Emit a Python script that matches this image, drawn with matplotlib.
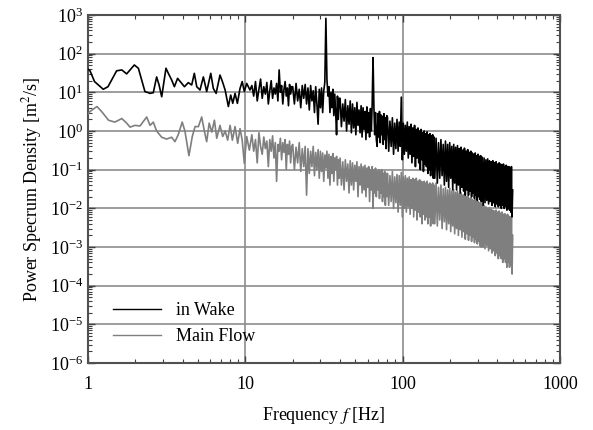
import matplotlib
matplotlib.use('Agg')
import matplotlib.pyplot as plt
from matplotlib.ticker import LogLocator, FixedLocator, FixedFormatter, NullFormatter
import numpy as np

plt.rcParams['font.family'] = ['Liberation Serif', 'DejaVu Serif']
plt.rcParams['mathtext.fontset'] = 'stix'

# low frequency part (Hz, m^2/s)
wake_lo_f = [1.0, 1.03, 1.1, 1.25, 1.34, 1.52, 1.64, 1.76, 1.97, 2.09,
             2.3, 2.48, 2.6, 2.73, 2.83, 2.94, 3.13, 3.24, 3.4, 3.54,
             3.71, 3.94, 4.1, 4.34, 4.56, 4.74, 4.91, 5.15, 5.41, 5.68,
             6.03, 6.26, 6.52, 6.9, 7.15, 7.44, 7.8, 8.07, 8.32, 8.6,
             8.9, 9.25, 9.55, 9.85, 10.2, 10.7]
wake_lo_v = [40, 36, 19, 12, 14, 36, 38, 30, 51, 42,
             10.5, 9.4, 9.8, 25, 15.5, 7.7, 42, 31, 21, 14,
             23, 17, 14, 17.8, 15.5, 31, 14, 11.5, 25, 10.5,
             31, 12.6, 9.4, 28, 19, 11.5, 4.3, 8.5, 5.2, 9.4,
             5.2, 12.6, 19, 10.5, 17, 11.5]

main_lo_f = [1.0, 1.03, 1.14, 1.22, 1.35, 1.48, 1.64, 1.76, 1.85, 1.99,
             2.14, 2.36, 2.48, 2.6, 2.73, 2.94, 3.16, 3.4, 3.57, 3.74,
             3.97, 4.13, 4.38, 4.6, 4.79, 5.03, 5.28, 5.49, 5.68, 5.89,
             6.12, 6.36, 6.58, 6.9, 7.18, 7.44, 7.72, 8.0, 8.27, 8.6,
             8.94, 9.25, 9.55, 9.85, 10.2, 10.6]
main_lo_v = [2.8, 3.2, 4.3, 3.2, 1.9, 1.7, 2.1, 1.6, 1.26, 1.4,
             1.35, 2.3, 1.4, 1.7, 1.0, 0.69, 0.62, 0.69, 0.53, 0.79,
             1.7, 1.0, 0.23, 0.72, 1.3, 1.3, 2.3, 1.0, 0.53, 1.6,
             0.94, 1.9, 0.65, 1.4, 0.72, 1.0, 0.58, 1.4, 0.58, 1.3,
             0.48, 1.15, 0.58, 0.146, 0.72, 0.32]

# noisy part above ~11 Hz, shared frequency bins
freq_hi = [11.0, 11.3, 11.6, 11.9, 12.2, 12.5, 12.8, 13.1, 13.4, 13.7,
           14.0, 14.3, 14.6, 14.9, 15.2, 15.5, 15.8, 16.1, 16.4, 16.7,
           17.0, 17.3, 17.6, 17.9, 18.2, 18.5, 18.8, 19.1, 19.4, 19.7,
           20.0, 20.5, 21.0, 21.5, 22.0, 22.5, 23.0, 23.5, 24.0, 24.5,
           25.0, 25.5, 26.0, 26.5, 27.0, 27.5, 28.0, 28.5, 29.0, 29.5,
           30.0, 30.5, 31.0, 31.5, 32.0, 32.5, 33.0, 33.5, 34.0, 34.5,
           35.0, 35.5, 36.0, 36.5, 37.0, 37.5, 38.0, 38.5, 39.0, 39.5,
           40.0, 40.8, 41.6, 42.4, 43.2, 44.0, 44.8, 45.6, 46.4, 47.2,
           48.0, 48.8, 49.6, 50.4, 51.2, 52.0, 52.8, 53.6, 54.4, 55.2,
           56.0, 56.8, 57.6, 58.4, 59.2, 60.0, 60.8, 61.6, 62.4, 63.2,
           64.0, 64.8, 65.6, 66.4, 67.2, 68.0, 68.8, 69.6, 70.4, 71.2,
           72.0, 72.8, 73.6, 74.4, 75.2, 76.0, 76.8, 77.6, 78.4, 79.2,
           80.0, 81.5, 83.0, 84.5, 86.0, 87.5, 89.0, 90.5, 92.0, 93.5,
           95.0, 96.5, 98.0, 99.5, 101.0, 102.5, 104.0, 105.5, 107.0, 108.5,
           110.0, 111.5, 113.0, 114.5, 116.0, 117.5, 119.0, 120.5, 122.0, 123.5,
           125.0, 126.5, 128.0, 129.5, 131.0, 132.5, 134.0, 135.5, 137.0, 138.5,
           140.0, 141.5, 143.0, 144.5, 146.0, 147.5, 149.0, 150.5, 152.0, 153.5,
           155.0, 156.5, 158.0,
           160, 163, 166, 169, 172, 175, 178, 181, 184, 187,
           190, 193, 196, 199, 202, 205, 208, 211, 214, 217,
           220, 223, 226, 229, 232, 235, 238, 241, 244, 247,
           250, 253, 256, 259, 262, 265, 268, 271, 274, 277,
           280, 283, 286, 289, 292, 295, 298, 301, 304, 307,
           310, 313, 316,
           320, 324.5, 329, 333.5, 338, 342.5, 347, 351.5, 356, 360.5,
           365, 369.5, 374, 378.5, 383, 387.5, 392, 396.5, 401, 405.5,
           410, 414.5, 419, 423.5, 428, 432.5, 437, 441.5, 446, 450.5,
           455, 459.5, 464, 468.5, 473, 477.5, 482, 486.5, 491, 495.5,
           500]

wake_hi = [15, 8, 19, 6, 12, 22, 7, 14, 9, 18,
           5, 11, 20, 7, 13, 9, 17, 6, 38, 10,
           15, 5, 12, 19, 8, 13, 4.5, 16, 9, 14,
           14, 5, 17, 6, 12, 4, 15, 7, 16, 5,
           13, 3.5, 15, 6, 11, 3, 14, 5, 1.5, 12,
           4, 13, 3, 11, 18, 820, 22, 8, 14, 3,
           10, 4, 12, 2.5, 9, 3, 0.8, 8, 2, 7,
           7, 1.3, 5, 1.8, 6.5, 1.0, 4.5, 1.5, 6, 0.9,
           5, 1.2, 4, 0.8, 5.5, 1.4, 3.5, 0.9, 4.5, 0.7,
           4, 1.1, 3.2, 0.6, 4.2, 0.9, 3, 0.7, 3.8, 1.0,
           5, 79, 4.5, 0.8, 3, 0.6, 0.4, 2.8, 0.7, 3.2,
           0.5, 2.6, 0.8, 2.4, 0.45, 2.8, 0.6, 2.2, 0.35, 2.5,
           2.3, 0.3, 1.8, 0.4, 2.2, 0.25, 1.6, 0.35, 2.0, 0.3,
           1.7, 0.4, 7.5, 0.18, 1.6, 0.25, 1.4, 0.3, 1.7, 0.2,
           1.3, 0.25, 1.5, 0.15, 1.2, 0.22, 1.4, 0.12, 1.1, 0.2,
           1.2, 0.15, 1.0, 0.1, 1.1, 0.18, 0.9, 0.09, 1.0, 0.14,
           0.85, 0.12, 0.95, 0.08, 0.8, 0.1, 0.85, 0.07, 0.75, 0.1,
           0.8, 0.06, 0.7,
           0.06, 0.65, 0.045, 0.5, 0.06, 0.6, 0.07, 0.45, 0.04, 0.55,
           0.05, 0.45, 0.035, 0.5, 0.06, 0.4, 0.03, 0.45, 0.045, 0.38,
           0.03, 0.42, 0.04, 0.35, 0.025, 0.38, 0.035, 0.32, 0.028, 0.36,
           0.022, 0.3, 0.03, 0.33, 0.022, 0.28, 0.028, 0.3, 0.02, 0.27,
           0.025, 0.25, 0.018, 0.27, 0.022, 0.23, 0.016, 0.25, 0.02, 0.22,
           0.017, 0.23, 0.015,
           0.21, 0.012, 0.2, 0.014, 0.18, 0.016, 0.19, 0.013, 0.17, 0.015,
           0.16, 0.012, 0.17, 0.014, 0.15, 0.011, 0.16, 0.013, 0.14, 0.011,
           0.15, 0.012, 0.14, 0.01, 0.13, 0.012, 0.14, 0.01, 0.12, 0.011,
           0.13, 0.009, 0.12, 0.01, 0.12, 0.009, 0.11, 0.008, 0.12, 0.006,
           0.03]

main_hi = [0.8, 0.3, 0.6, 0.15, 0.9, 0.4, 0.25, 0.7, 0.35, 0.55,
           0.12, 0.6, 0.3, 0.75, 0.2, 0.5, 0.05, 0.45, 0.3, 0.65,
           0.18, 0.5, 0.28, 0.6, 0.1, 0.45, 0.25, 0.55, 0.15, 0.4,
           0.45, 0.1, 0.38, 0.15, 0.5, 0.09, 0.35, 0.12, 0.4, 0.022,
           0.35, 0.08, 0.3, 0.12, 0.4, 0.07, 0.28, 0.1, 0.33, 0.06,
           0.3, 0.09, 0.27, 0.05, 0.24, 0.11, 0.3, 0.06, 0.25, 0.04,
           0.22, 0.08, 0.26, 0.05, 0.2, 0.1, 0.22, 0.04, 0.18, 0.06,
           0.2, 0.04, 0.16, 0.03, 0.18, 0.05, 0.14, 0.025, 0.17, 0.04,
           0.15, 0.03, 0.13, 0.05, 0.16, 0.02, 0.12, 0.04, 0.14, 0.025,
           0.12, 0.03, 0.13, 0.02, 0.11, 0.035, 0.12, 0.015, 0.1, 0.03,
           0.12, 0.01, 0.1, 0.025, 0.11, 0.02, 0.09, 0.03, 0.1, 0.018,
           0.09, 0.025, 0.1, 0.015, 0.08, 0.02, 0.09, 0.012, 0.08, 0.02,
           0.08, 0.012, 0.07, 0.015, 0.09, 0.01, 0.065, 0.014, 0.075, 0.008,
           0.07, 0.012, 0.085, 0.006, 0.065, 0.01, 0.07, 0.008, 0.06, 0.011,
           0.065, 0.007, 0.055, 0.01, 0.06, 0.006, 0.055, 0.009, 0.06, 0.005,
           0.05, 0.008, 0.055, 0.006, 0.05, 0.004, 0.048, 0.007, 0.05, 0.005,
           0.045, 0.006, 0.05, 0.004, 0.042, 0.006, 0.045, 0.0035, 0.04, 0.005,
           0.045, 0.004, 0.04,
           0.004, 0.045, 0.0035, 0.035, 0.005, 0.04, 0.003, 0.032, 0.0045, 0.035,
           0.0028, 0.03, 0.004, 0.033, 0.0025, 0.028, 0.0035, 0.03, 0.0022, 0.026,
           0.003, 0.028, 0.002, 0.024, 0.0028, 0.025, 0.0018, 0.022, 0.0025, 0.023,
           0.0016, 0.02, 0.0022, 0.021, 0.0015, 0.018, 0.002, 0.019, 0.0014, 0.017,
           0.0018, 0.016, 0.0013, 0.017, 0.0016, 0.015, 0.0012, 0.015, 0.0014, 0.014,
           0.0011, 0.014, 0.001,
           0.013, 0.001, 0.012, 0.0009, 0.011, 0.0011, 0.01, 0.0008, 0.0105, 0.0009,
           0.0095, 0.0007, 0.009, 0.0008, 0.0085, 0.0006, 0.009, 0.0007, 0.008, 0.0005,
           0.0085, 0.0006, 0.0075, 0.0005, 0.008, 0.0004, 0.007, 0.0005, 0.0072, 0.0004,
           0.0065, 0.0003, 0.007, 0.0004, 0.0062, 0.0003, 0.006, 0.00035, 0.0058, 0.0002,
           0.002]

x_ticks = [1, 10, 100, 1000]
x_labels = ['1', '10', '100', '1000']

wake_f = wake_lo_f + freq_hi
wake_v = wake_lo_v + wake_hi
main_f = main_lo_f + freq_hi
main_v = main_lo_v + main_hi

fig = plt.figure(figsize=(5.93, 4.3), dpi=100)
ax = fig.add_axes([0.1484, 0.1558, 0.7960, 0.8093])

ax.plot(main_f, main_v, color='#7f7f7f', lw=1.2, label='Main Flow', zorder=3)
ax.plot(wake_f, wake_v, color='black', lw=1.2, label='in Wake', zorder=4)

ax.set_xscale('log')
ax.set_yscale('log')
ax.set_xlim(1, 1000)
ax.set_ylim(1e-6, 1e3)

ax.xaxis.set_major_locator(FixedLocator(x_ticks))
ax.xaxis.set_major_formatter(FixedFormatter(x_labels))
ax.xaxis.set_minor_locator(LogLocator(base=10, subs=np.arange(2, 10)))
ax.xaxis.set_minor_formatter(NullFormatter())
ax.yaxis.set_major_locator(LogLocator(base=10, numticks=12))
ax.yaxis.set_minor_locator(LogLocator(base=10, subs=np.arange(2, 10), numticks=12))
ax.yaxis.set_minor_formatter(NullFormatter())

ax.grid(True, which='major', color='#8c8c8c', lw=1.2)
ax.tick_params(which='both', direction='in', top=True, right=True,
               color='#404040', labelsize=13)
ax.tick_params(axis='x', which='major', pad=9)
ax.tick_params(which='major', length=5, width=1.0)
ax.tick_params(which='minor', length=3, width=0.8)
for s in ax.spines.values():
    s.set_color('#505050')
    s.set_linewidth(1.5)

ax.set_xlabel('Frequency $f$ [Hz]', fontsize=13, labelpad=9)
ax.set_ylabel('Power Specrum Density [m$^2$/s]', fontsize=13, labelpad=4)

h, l = ax.get_legend_handles_labels()
leg = ax.legend(h[::-1], l[::-1], loc='lower left', frameon=False, fontsize=13,
                handlelength=2.7, handletextpad=0.8, labelspacing=0.5,
                bbox_to_anchor=(0.018, 0.004))
for line in leg.get_lines():
    line.set_linewidth(1.0)

fig.savefig('out.png', dpi=100)
